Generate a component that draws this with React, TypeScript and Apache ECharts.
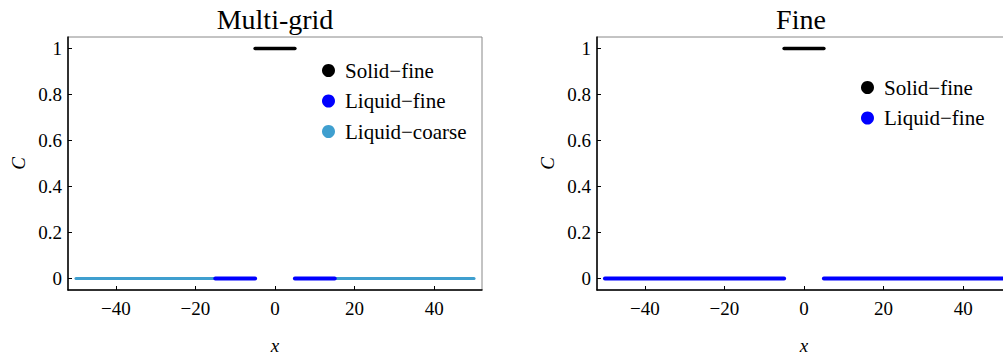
import { useEffect, useRef } from "react";
import * as echarts from "echarts";

// ---- data ----
const xTicks = [-40, -20, 0, 20, 40];
const yTicks = [0, 0.2, 0.4, 0.6, 0.8, 1];
const xMin = -52;
const xMax = 52;
const yMin = -0.05;
const yMax = 1.05;

const solidFineValue = 1;
const liquidValue = 0;
const multiSolidFineSegments = [[-5, 5]];
const multiLiquidFineSegments = [[-15, -5], [5, 15]];
const multiLiquidCoarseSegments = [[-50, -15], [15, 50]];
const fineSolidFineSegments = [[-5, 5]];
const fineLiquidFineSegments = [[-50, -5], [5, 50]];

const titles = ["Multi-grid", "Fine"];

const FONT = "Liberation Serif";
const BLACK = "#000000";
const BLUE = "#0000ff";
const COARSE = "#3f9fcf";

function segSeries(name: string, segs: number[][], value: number, color: string, width: number, gridIdx: number, z: number) {
  return segs.map((s) => ({
    type: "line",
    name,
    xAxisIndex: gridIdx,
    yAxisIndex: gridIdx,
    data: [
      [s[0], value],
      [s[1], value],
    ],
    color,
    showSymbol: false,
    symbol: "circle",
    clip: false,
    lineStyle: { color, width, cap: "round" },
    itemStyle: { color },
    z,
    silent: true,
  }));
}

function xAxis(gridIndex: number) {
  return {
    type: "value",
    gridIndex,
    min: xMin,
    max: xMax,
    name: "x",
    nameLocation: "middle",
    nameGap: 46,
    nameTextStyle: { fontFamily: FONT, fontSize: 19, fontStyle: "italic", color: BLACK },
    axisLine: { show: true, onZero: false, lineStyle: { color: BLACK, width: 1.5 } },
    axisTick: { show: true, inside: true, length: 4, customValues: xTicks, lineStyle: { color: BLACK, width: 1 } },
    axisLabel: {
      show: true,
      customValues: xTicks,
      margin: 9,
      fontFamily: FONT,
      fontSize: 19,
      color: BLACK,
      formatter: (v: number) => (v < 0 ? "\u2212" + Math.abs(v) : String(v)),
    },
    splitLine: { show: false },
  };
}

function yAxis(gridIndex: number) {
  return {
    type: "value",
    gridIndex,
    min: yMin,
    max: yMax,
    name: "C",
    nameLocation: "middle",
    nameGap: 40,
    nameRotate: 90,
    nameTextStyle: { fontFamily: FONT, fontSize: 19, fontStyle: "italic", color: BLACK },
    axisLine: { show: true, onZero: false, lineStyle: { color: BLACK, width: 1.5 } },
    axisTick: { show: true, inside: true, length: 4, customValues: yTicks, lineStyle: { color: BLACK, width: 1 } },
    axisLabel: {
      show: true,
      customValues: yTicks,
      margin: 6,
      fontFamily: FONT,
      fontSize: 19,
      color: BLACK,
      formatter: (v: number) => String(Math.round(v * 10) / 10),
    },
    splitLine: { show: false },
  };
}

export default function App() {
  const ref = useRef<HTMLDivElement>(null);
  useEffect(() => {
    document.body.style.margin = "0";
    document.body.style.overflow = "hidden";
    if (!ref.current) return;
    const chart = echarts.init(ref.current, null, { renderer: "svg" });
    const option: any = {
      animation: false,
      backgroundColor: "#ffffff",
      textStyle: { fontFamily: FONT },
      grid: [
        { left: 68, top: 37, width: 414, height: 256, show: true, borderColor: "#888888", borderWidth: 1, backgroundColor: "transparent", containLabel: false },
        { left: 597, top: 37, width: 414, height: 256, show: true, borderColor: "#888888", borderWidth: 1, backgroundColor: "transparent", containLabel: false },
      ],
      xAxis: [xAxis(0), xAxis(1)],
      yAxis: [yAxis(0), yAxis(1)],
      legend: [
        {
          orient: "vertical",
          left: 322,
          top: 60,
          padding: 0,
          itemWidth: 13,
          itemHeight: 13,
          itemGap: 9.5,
          icon: "circle",
          data: ["Solid\u2212fine", "Liquid\u2212fine", "Liquid\u2212coarse"],
          textStyle: { fontFamily: FONT, fontSize: 21, color: BLACK, padding: [0, 0, 0, 5] },
          selectedMode: false,
        },
        {
          orient: "vertical",
          left: 861,
          top: 77,
          padding: 0,
          itemWidth: 13,
          itemHeight: 13,
          itemGap: 9.5,
          icon: "circle",
          data: [
            { name: "Solid\u2212fine ", itemStyle: { color: BLACK } },
            { name: "Liquid\u2212fine ", itemStyle: { color: BLUE } },
          ],
          formatter: (n: string) => n.trim(),
          textStyle: { fontFamily: FONT, fontSize: 21, color: BLACK, padding: [0, 0, 0, 5] },
          selectedMode: false,
        },
      ],
      graphic: [
        { type: "text", x: 275, y: 19, style: { text: titles[0], font: `28px ${FONT}`, fill: BLACK, textAlign: "center", textVerticalAlign: "middle" } },
        { type: "text", x: 801, y: 19, style: { text: titles[1], font: `28px ${FONT}`, fill: BLACK, textAlign: "center", textVerticalAlign: "middle" } },
      ],
      series: [
        ...segSeries("Liquid\u2212coarse", multiLiquidCoarseSegments, liquidValue, COARSE, 3, 0, 2),
        ...segSeries("Liquid\u2212fine", multiLiquidFineSegments, liquidValue, BLUE, 4, 0, 3),
        ...segSeries("Solid\u2212fine", multiSolidFineSegments, solidFineValue, BLACK, 3.5, 0, 3),
        ...segSeries("Liquid\u2212fine ", fineLiquidFineSegments, liquidValue, BLUE, 4, 1, 3),
        ...segSeries("Solid\u2212fine ", fineSolidFineSegments, solidFineValue, BLACK, 3.5, 1, 3),
      ],
    };
    chart.setOption(option);
    return () => chart.dispose();
  }, []);
  return <div ref={ref} style={{ position: "absolute", left: 0, top: 0, width: 1020, height: 360 }} />;
}
